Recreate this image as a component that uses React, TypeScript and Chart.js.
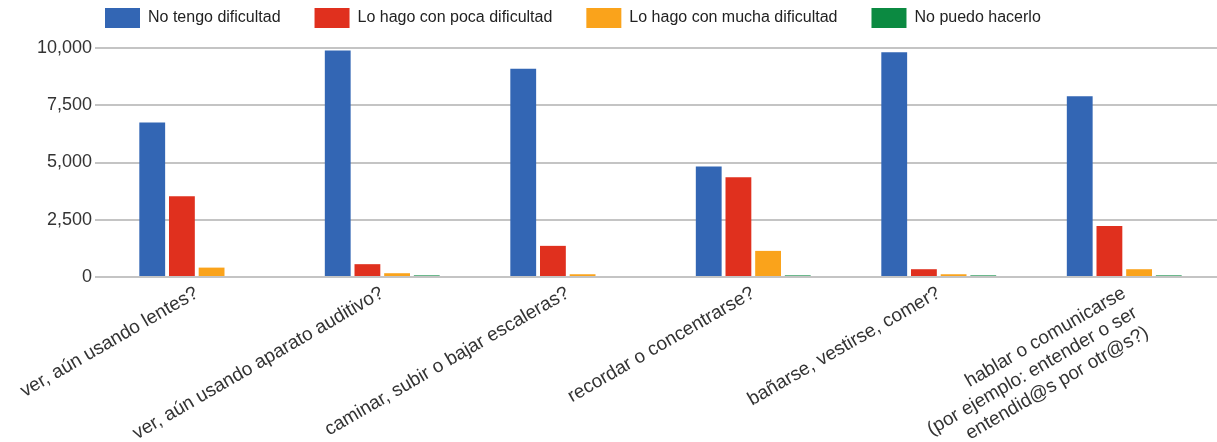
import React, { useEffect, useRef } from "react";
import { Chart, registerables } from "chart.js";

Chart.register(...registerables);

const categories: (string | string[])[] = [
  "ver, aún usando lentes?",
  "ver, aún usando aparato auditivo?",
  "caminar, subir o bajar escaleras?",
  "recordar o concentrarse?",
  "bañarse, vestirse, comer?",
  ["hablar o comunicarse", "(por ejemplo: entender o ser", "entendid@s por otr@s?)"],
];

const seriesNames = [
  "No tengo dificultad",
  "Lo hago con poca dificultad",
  "Lo hago con mucha dificultad",
  "No puedo hacerlo",
];

const noTengo = [6750, 9890, 9090, 4820, 9815, 7890];
const pocaDificultad = [3530, 560, 1360, 4360, 340, 2230];
const muchaDificultad = [410, 165, 120, 1140, 120, 340];
const noPuedo = [0, 70, 0, 70, 70, 70];

const yTicks = [0, 2500, 5000, 7500, 10000];

const colors = ["#3366b4", "#e0301e", "#faa31b", "#0b8a41"];

// moves the built-in legend box so it starts above the plot like the reference
const legendShift = {
  id: "legendShift",
  afterLayout(chart: any) {
    const lg = chart.legend;
    if (lg) {
      lg.left += 71;
      lg.top -= 10;
    }
  },
};

export default function App() {
  const canvasRef = useRef<HTMLCanvasElement | null>(null);

  useEffect(() => {
    document.body.style.margin = "0";
    document.body.style.overflow = "hidden";
    const canvas = canvasRef.current;
    if (!canvas) return;
    const font = "'Liberation Sans', Arial, sans-serif";
    const values = [noTengo, pocaDificultad, muchaDificultad, noPuedo];
    const chart = new Chart(canvas, {
      type: "bar",
      data: {
        labels: categories,
        datasets: seriesNames.map((name, i) => ({
          label: name,
          data: values[i],
          backgroundColor: colors[i],
          borderWidth: 0,
          categoryPercentage: 0.64,
          barPercentage: 0.87,
        })),
      },
      plugins: [legendShift],
      options: {
        animation: false,
        responsive: true,
        maintainAspectRatio: false,
        layout: { padding: { left: 0, right: 0, top: 0, bottom: 0 } },
        plugins: {
          tooltip: { enabled: false },
          legend: {
            position: "top",
            align: "start",
            labels: {
              boxWidth: 35,
              boxHeight: 20,
              padding: 34,
              color: "#222",
              font: { family: font, size: 16 },
            },
          },
        },
        scales: {
          x: {
            grid: { display: false, drawTicks: false },
            border: { display: false },
            ticks: {
              minRotation: 30,
              maxRotation: 30,
              autoSkip: false,
              padding: 5,
              color: "#333",
              font: { family: font, size: 19 },
            },
            afterFit: (scale: any) => {
              scale.height = 165;
            },
          },
          y: {
            min: 0,
            max: 10000,
            afterBuildTicks: (scale: any) => {
              scale.ticks = yTicks.map((v) => ({ value: v }));
            },
            grid: { color: "#c4c4c4", lineWidth: 2, tickLength: 9 },
            border: { display: false },
            ticks: {
              padding: 3,
              color: "#333",
              font: { family: font, size: 18 },
            },
            afterFit: (scale: any) => {
              scale.width = 104;
            },
          },
        },
      },
    });
    return () => chart.destroy();
  }, []);

  return (
    <div style={{ position: "absolute", left: 0, top: -16, width: 1217, height: 458 }}>
      <canvas ref={canvasRef} />
    </div>
  );
}
